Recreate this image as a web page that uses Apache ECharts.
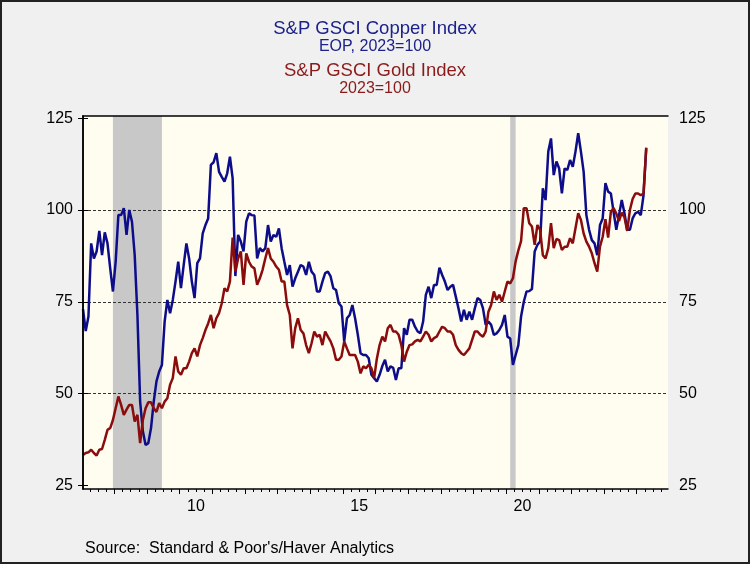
<!DOCTYPE html>
<html>
<head>
<meta charset="utf-8">
<title>S&P GSCI Copper / Gold</title>
<script src="https://cdn.jsdelivr.net/npm/echarts@6.0.0/dist/echarts.min.js"></script>
<style>
html, body { margin: 0; padding: 0; background: #f0f0f0; }
#chart { width: 750px; height: 564px; }
</style>
</head>
<body>
<div id="chart"></div>
<script>
// monthly, Jan 2007 = index 0
var copper = [
    73.0, 67.0, 71.0, 90.9, 86.8, 88.7, 94.3, 87.7, 93.9, 90.9, 84.1, 77.8,
    85.9, 98.6, 98.6, 100.5, 93.2, 100.0, 96.8, 87.7, 71.4, 47.8, 39.7, 36.0,
    36.5, 40.6, 47.8, 53.3, 56.0, 57.8, 69.6, 75.5, 71.9, 75.5, 80.5, 85.9,
    78.7, 85.0, 90.9, 86.8, 80.5, 76.0, 85.5, 86.8, 93.6, 95.9, 97.7, 112.3,
    113.0, 115.5, 110.4, 109.0, 107.7, 110.0, 114.5, 108.6, 82.0, 93.2, 91.4, 88.7,
    96.8, 99.1, 98.6, 98.5, 86.8, 89.6, 88.7, 89.6, 95.9, 91.4, 93.2, 92.7,
    95.0, 89.6, 85.9, 82.3, 85.0, 79.1, 81.4, 83.2, 85.0, 84.6, 82.3, 85.9,
    83.2, 82.3, 77.8, 77.8, 80.5, 82.8, 83.2, 81.9, 78.7, 78.2, 74.6, 73.7,
    64.2, 70.5, 71.4, 74.1, 70.5, 66.0, 61.0, 60.5, 60.5, 59.6, 55.1, 54.2,
    53.3, 55.1, 57.5, 59.2, 56.0, 57.4, 57.0, 53.7, 56.9, 56.9, 67.8, 66.0,
    70.1, 70.1, 68.2, 66.9, 66.4, 69.6, 76.9, 79.1, 76.0, 79.6, 79.6, 84.3,
    82.3, 80.5, 78.2, 79.1, 79.6, 76.4, 73.2, 69.6, 72.8, 70.1, 72.3, 70.1,
    73.2, 76.0, 75.5, 73.2, 68.7, 69.6, 68.7, 66.0, 66.4, 67.3, 68.7, 71.4,
    65.5, 65.0, 57.8, 60.5, 63.2, 71.0, 75.0, 77.8, 77.9, 78.5, 88.7, 90.5,
    91.4, 105.9, 102.7, 115.9, 119.5, 109.5, 113.2, 111.3, 104.5, 111.3, 110.9, 113.6,
    111.8, 115.9, 120.9, 115.9, 110.4, 98.6, 94.6, 91.8, 90.9, 87.7, 95.9, 97.7,
    107.3, 105.0, 104.5, 99.5, 94.6, 98.6, 102.7, 99.1, 94.6, 94.6, 97.7, 99.1,
    99.5, 98.6, 104.0, 116.8
];
var gold = [
    33.3, 33.8, 34.0, 34.7, 33.8, 33.1, 34.7, 34.9, 37.4, 40.1, 40.6, 42.8,
    46.0, 49.2, 46.9, 44.2, 45.6, 46.9, 46.9, 42.4, 44.2, 36.5, 42.8, 46.0,
    47.6, 47.6, 46.0, 45.0, 47.4, 46.0, 47.8, 48.7, 52.4, 54.2, 60.1, 56.0,
    55.1, 56.9, 56.9, 58.7, 61.0, 62.3, 60.1, 63.2, 65.1, 67.3, 69.1, 71.4,
    67.8, 70.5, 71.9, 74.6, 78.7, 77.8, 80.5, 92.5, 83.2, 86.8, 88.7, 79.6,
    88.2, 85.9, 84.6, 84.1, 79.6, 81.4, 83.7, 86.8, 89.6, 86.8, 85.9, 84.6,
    83.7, 80.5, 80.5, 74.1, 71.4, 62.3, 67.8, 70.5, 67.3, 66.4, 63.2, 61.0,
    63.7, 66.9, 65.5, 66.0, 63.2, 66.9, 65.5, 64.2, 62.3, 59.2, 59.2, 60.1,
    64.2, 62.3, 60.5, 60.5, 60.5, 58.7, 55.5, 57.4, 56.9, 57.8, 56.9, 54.2,
    59.5, 63.2, 65.5, 64.2, 67.8, 68.7, 66.9, 66.9, 66.0, 63.2, 58.7, 61.4,
    63.2, 63.4, 64.2, 64.6, 64.2, 65.5, 66.9, 66.0, 64.2, 65.1, 65.5, 66.9,
    68.2, 67.8, 66.9, 66.9, 66.0, 63.2, 61.9, 61.0, 60.5, 61.4, 62.3, 64.6,
    66.9, 66.9, 66.0, 65.5, 66.9, 72.3, 74.1, 77.8, 75.5, 76.9, 75.0, 77.8,
    80.5, 80.0, 81.4, 86.0, 89.0, 91.5, 100.5, 100.5, 96.4, 95.5, 90.5, 95.9,
    94.6, 87.7, 86.8, 89.6, 96.4, 89.6, 92.1, 91.8, 89.1, 90.0, 90.0, 92.3,
    90.9, 95.0, 99.1, 97.3, 93.6, 91.4, 90.0, 88.2, 85.5, 83.2, 90.0, 92.7,
    97.5, 92.5, 99.5, 100.5, 99.0, 97.0, 99.3, 98.0, 94.3, 100.0, 103.0, 104.5,
    104.5, 104.0, 104.5, 117.0
];
var startYear = 2007;
var lastMonth = 215;               // Dec 2024, right edge of the axis
var recessions = [[11, 29], [157, 159]];
var yTicks = [25, 50, 75, 100, 125];
var gridValues = [50, 75, 100];
var labelYears = [2010, 2015, 2020];
var yearLabels = ['10', '15', '20'];

var FONT = 'Liberation Sans';

function toPairs(arr) {
    var out = [];
    for (var i = 0; i < arr.length; i++) {
        out.push([i, arr[i]]);
    }
    return out;
}

// ticks sit between months: long ones at the turn of the year, short ones per quarter
var yearTicks = [], quarterTicks = [];
for (var m = 2.5; m < lastMonth; m += 3) {
    if ((m + 0.5) % 12 === 0) yearTicks.push(m);
    else quarterTicks.push(m);
}
// year labels in the middle of their year
var labelPos = labelYears.map(function (y) { return (y - startYear) * 12 + 5.5; });

var myChart = echarts.init(document.getElementById('chart'));

var options = {
    backgroundColor: '#f0f0f0',
    animation: false,
    title: [
        { text: 'S&P GSCI Copper Index', left: 'center', top: 19, padding: 0,
          textStyle: { fontFamily: FONT, fontSize: 18.5, fontWeight: 'normal', color: '#1c2289' } },
        { text: 'EOP, 2023=100', left: 'center', top: 39, padding: 0,
          textStyle: { fontFamily: FONT, fontSize: 16, fontWeight: 'normal', color: '#1c2289' } },
        { text: 'S&P GSCI Gold Index', left: 'center', top: 61, padding: 0,
          textStyle: { fontFamily: FONT, fontSize: 18.5, fontWeight: 'normal', color: '#8b1a1a' } },
        { text: '2023=100', left: 'center', top: 81, padding: 0,
          textStyle: { fontFamily: FONT, fontSize: 16, fontWeight: 'normal', color: '#8b1a1a' } }
    ],
    grid: {
        left: 83, right: 82, top: 116, bottom: 75,
        show: true, backgroundColor: '#fffcf0', borderWidth: 0
    },
    xAxis: [{
        type: 'value', min: 0, max: lastMonth, position: 'bottom', z: 10,
        axisLine: { show: true, lineStyle: { color: '#000', width: 1.5 } },
        axisTick: { show: true, customValues: yearTicks, length: 5, lineStyle: { color: '#000', width: 1 } },
        axisLabel: {
            show: true, customValues: labelPos, margin: 10, fontFamily: FONT, fontSize: 16, color: '#000',
            formatter: function (v) {
                for (var i = 0; i < labelPos.length; i++) {
                    if (Math.abs(labelPos[i] - v) < 0.01) return yearLabels[i];
                }
                return '';
            }
        },
        splitLine: { show: false }
    }, {
        type: 'value', min: 0, max: lastMonth, position: 'bottom', z: 10,
        axisLine: { show: false },
        axisTick: { show: true, customValues: quarterTicks, length: 3, lineStyle: { color: '#000', width: 1 } },
        axisLabel: { show: false },
        splitLine: { show: false }
    }, {
        type: 'value', min: 0, max: lastMonth, position: 'top', z: 10,
        axisLine: { show: true, lineStyle: { color: '#000', width: 1.5 } },
        axisTick: { show: false },
        axisLabel: { show: false },
        splitLine: { show: false }
    }],
    yAxis: [{
        type: 'value', min: 24, max: 125.6, position: 'left', z: 10,
        axisLine: { show: true, lineStyle: { color: '#000', width: 1.5 } },
        axisTick: { show: true, customValues: yTicks, length: 5, lineStyle: { color: '#000', width: 1 } },
        axisLabel: { show: true, customValues: yTicks, margin: 10, fontFamily: FONT, fontSize: 16, color: '#000' },
        splitLine: { show: false }
    }, {
        type: 'value', min: 24, max: 125.6, position: 'right', z: 10,
        axisLine: { show: true, lineStyle: { color: '#000', width: 1.5 } },
        axisTick: { show: true, customValues: yTicks, length: 5, lineStyle: { color: '#000', width: 1 } },
        axisLabel: { show: true, customValues: yTicks, margin: 11, fontFamily: FONT, fontSize: 16, color: '#000' },
        splitLine: { show: false }
    }],
    series: [{
        name: 'Copper',
        type: 'line',
        xAxisIndex: 0, yAxisIndex: 0,
        data: toPairs(copper),
        showSymbol: false,
        z: 3,
        lineStyle: { color: '#0d0d8a', width: 2.5 },
        markArea: {
            silent: true, z: 1,
            itemStyle: { color: '#c8c8c8', opacity: 1 },
            data: recessions.map(function (r) { return [{ xAxis: r[0] }, { xAxis: r[1] }]; })
        },
        markLine: {
            silent: true, z: 2, symbol: ['none', 'none'],
            label: { show: false },
            lineStyle: { color: '#333', width: 1, type: [3, 2] },
            data: gridValues.map(function (v) { return { yAxis: v }; })
        }
    }, {
        name: 'Gold',
        type: 'line',
        xAxisIndex: 0, yAxisIndex: 0,
        data: toPairs(gold),
        showSymbol: false,
        z: 4,
        lineStyle: { color: '#8a0c0c', width: 2.5 }
    }],
    graphic: [{
        type: 'text', left: 85, top: 541,
        style: { text: "Source:  Standard & Poor's/Haver Analytics", fontFamily: FONT, fontSize: 16, fill: '#000' }
    }, {
        type: 'rect', shape: { x: 1, y: 1, width: 748, height: 562 },
        style: { fill: 'none', stroke: '#222', lineWidth: 2 }
    }]
};

myChart.setOption(options);
</script>
</body>
</html>
